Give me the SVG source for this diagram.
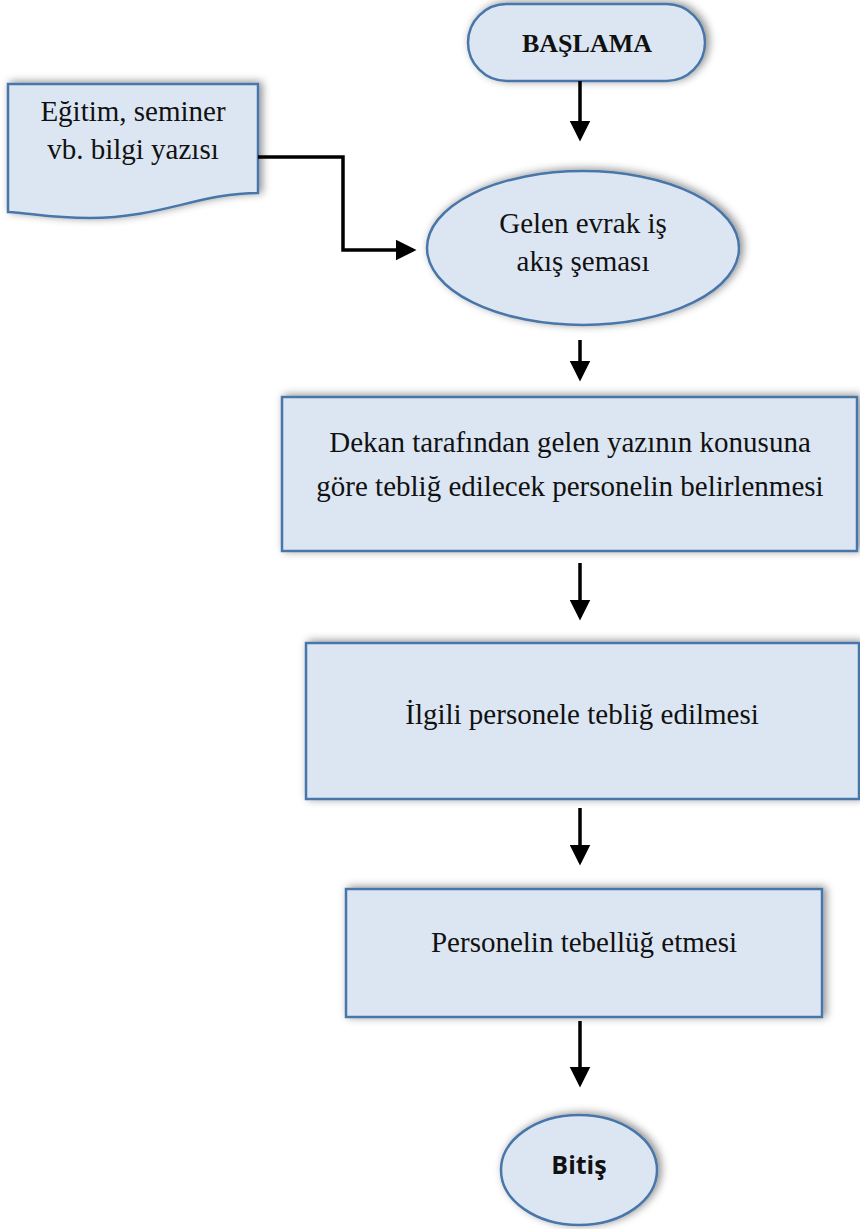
<svg xmlns="http://www.w3.org/2000/svg" width="860" height="1229" viewBox="0 0 860 1229">
<style>
.node{fill:#dce6f3;stroke:#4a76a8;stroke-width:2.5}
.t{font-family:"Liberation Serif","Times New Roman",serif;font-size:29px;fill:#111;text-anchor:middle}
.b{font-weight:bold;font-size:26px}
.s{font-family:"Open Sans","Liberation Sans",sans-serif;font-weight:bold;font-size:25px;fill:#111;text-anchor:middle}
.c{fill:none;stroke:#000;stroke-width:3.5}
</style>
<defs>
<filter id="sh" x="-10%" y="-10%" width="125%" height="130%">
<feDropShadow dx="3" dy="-1" stdDeviation="4" flood-color="#000" flood-opacity="0.45"/>
</filter>
<marker id="ah" markerWidth="6" markerHeight="6" refX="5" refY="3" orient="auto" markerUnits="strokeWidth">
<path d="M0,0 L6,3 L0,6 z" fill="#000"/>
</marker>
</defs>
<rect width="860" height="1229" fill="#fff"/>
<g id="start">
<rect class="node" filter="url(#sh)" x="468" y="4" width="237" height="77" rx="38.5"/>
<text class="t b" x="587" y="52">BAŞLAMA</text>
</g>
<g id="doc">
<path class="node" filter="url(#sh)" d="M8,84 H258 V193 C200,193 160,218 90,218 C50,218 30,213 8,212 Z"/>
<text class="t" x="133" y="121">Eğitim, seminer</text>
<text class="t" x="133" y="159">vb. bilgi yazısı</text>
</g>
<g id="gelen">
<ellipse class="node" filter="url(#sh)" cx="583" cy="248" rx="156" ry="77"/>
<text class="t" x="583" y="233">Gelen evrak iş</text>
<text class="t" x="583" y="271">akış şeması</text>
</g>
<g id="dekan">
<rect class="node" filter="url(#sh)" x="282" y="397" width="575" height="154"/>
<text class="t" x="570" y="452">Dekan tarafından gelen yazının konusuna</text>
<text class="t" x="570" y="496">göre tebliğ edilecek personelin belirlenmesi</text>
</g>
<g id="teblig">
<rect class="node" filter="url(#sh)" x="306" y="643" width="553" height="156"/>
<text class="t" x="582" y="724">İlgili personele tebliğ edilmesi</text>
</g>
<g id="tebellug">
<rect class="node" filter="url(#sh)" x="346" y="889" width="476" height="128"/>
<text class="t" x="584" y="952">Personelin tebellüğ etmesi</text>
</g>
<g id="bitis">
<ellipse class="node" filter="url(#sh)" cx="579" cy="1170" rx="78" ry="55"/>
<text class="s" x="579" y="1174">Bitiş</text>
</g>
<g id="connectors">
<path class="c" marker-end="url(#ah)" d="M580,81 V138"/>
<path class="c" marker-end="url(#ah)" d="M258,157 H343 V250 H413"/>
<path class="c" marker-end="url(#ah)" d="M580,340 V378"/>
<path class="c" marker-end="url(#ah)" d="M580,563 V617"/>
<path class="c" marker-end="url(#ah)" d="M580,808 V862"/>
<path class="c" marker-end="url(#ah)" d="M580,1021 V1084"/>
</g>
</svg>
